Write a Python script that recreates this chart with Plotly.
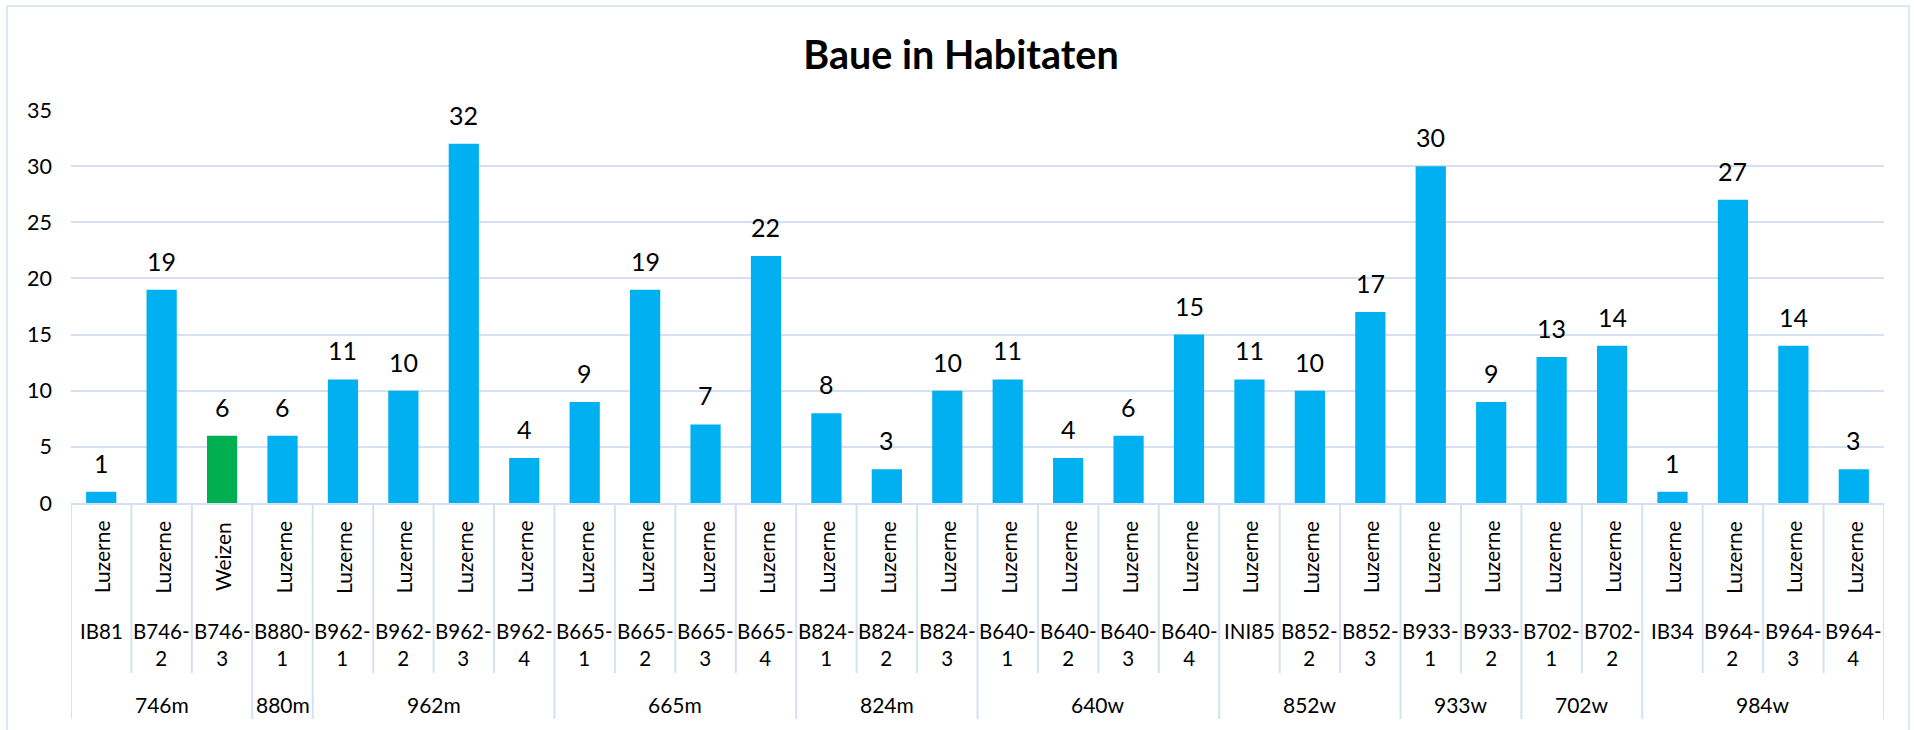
import plotly.graph_objects as go

# ---- data ----
fields = ["IB81", "B746-2", "B746-3", "B880-1", "B962-1", "B962-2", "B962-3", "B962-4",
          "B665-1", "B665-2", "B665-3", "B665-4", "B824-1", "B824-2", "B824-3",
          "B640-1", "B640-2", "B640-3", "B640-4", "INI85", "B852-2", "B852-3",
          "B933-1", "B933-2", "B702-1", "B702-2", "IB34", "B964-2", "B964-3", "B964-4"]
crops = ["Luzerne", "Luzerne", "Weizen", "Luzerne", "Luzerne", "Luzerne", "Luzerne", "Luzerne",
         "Luzerne", "Luzerne", "Luzerne", "Luzerne", "Luzerne", "Luzerne", "Luzerne",
         "Luzerne", "Luzerne", "Luzerne", "Luzerne", "Luzerne", "Luzerne", "Luzerne",
         "Luzerne", "Luzerne", "Luzerne", "Luzerne", "Luzerne", "Luzerne", "Luzerne", "Luzerne"]
groups = ["746m", "746m", "746m", "880m", "962m", "962m", "962m", "962m",
          "665m", "665m", "665m", "665m", "824m", "824m", "824m",
          "640w", "640w", "640w", "640w", "852w", "852w", "852w",
          "933w", "933w", "702w", "702w", "984w", "984w", "984w", "984w"]
values = [1, 19, 6, 6, 11, 10, 32, 4, 9, 19, 7, 22, 8, 3, 10,
          11, 4, 6, 15, 11, 10, 17, 30, 9, 13, 14, 1, 27, 14, 3]
y_ticks = [0, 5, 10, 15, 20, 25, 30, 35]
title_text = "Baue in Habitaten"

# ---- style ----
BLUE = "#00B0F0"
GREEN = "#00B050"
LINE = "#D5E1F2"
TXT = "#000000"
FONT = "Lato"

W, H = 1914, 730
ML, MR, MT, MB = 71, 30, 110, 227
PW, PH = W - ML - MR, H - MT - MB
Y0 = H - MB  # pixel of zero line


def py(pix):  # pixel y -> paper y
    return (Y0 - pix) / PH


def px(pix):  # pixel x -> paper x
    return (pix - ML) / PW


n = len(fields)
xs = list(range(n))
colors = [GREEN if c == "Weizen" else BLUE for c in crops]

fig = go.Figure()
fig.add_trace(go.Bar(x=xs, y=values, marker=dict(color=colors, line=dict(width=0)),
                     width=0.5, hoverinfo="skip"))

ann = []
# data labels
for i, v in zip(xs, values):
    ann.append(dict(x=i, y=v, xref="x", yref="y", text=str(v), showarrow=False,
                    yanchor="bottom", xanchor="center", yshift=12,
                    font=dict(family=FONT, size=25, color=TXT)))
# crop labels (rotated)
for i, c in zip(xs, crops):
    ann.append(dict(x=i, y=py(557), xref="x", yref="paper", text=c, showarrow=False,
                    textangle=-90, yanchor="middle", xanchor="center",
                    font=dict(family=FONT, size=21, color=TXT)))
# field labels (wrapped after hyphen)
for i, f in zip(xs, fields):
    ann.append(dict(x=i, y=py(617), xref="x", yref="paper", text=f.replace("-", "-<br>"),
                    showarrow=False, yanchor="top", xanchor="center", align="center",
                    font=dict(family=FONT, size=20.5, color=TXT)))
# group labels + separators
spans = []
start = 0
for i in range(1, n + 1):
    if i == n or groups[i] != groups[i - 1]:
        spans.append((groups[start], start, i - 1))
        start = i
for g, s, e in spans:
    ann.append(dict(x=(s + e) / 2, y=py(704), xref="x", yref="paper", text=g,
                    showarrow=False, yanchor="middle", xanchor="center",
                    font=dict(family=FONT, size=21, color=TXT)))

shapes = []
group_edges = set([s for _, s, _ in spans] + [n])
for i in range(n + 1):
    bottom = 719 if i in group_edges else 673
    shapes.append(dict(type="line", xref="x", yref="paper", x0=i - 0.5, x1=i - 0.5,
                       y0=0, y1=py(bottom), line=dict(color=LINE, width=2), layer="below"))
# chart border
shapes.append(dict(type="rect", xref="paper", yref="paper", x0=px(7), x1=px(1909),
                   y0=py(6), y1=py(745), line=dict(color=LINE, width=1.5),
                   fillcolor="rgba(0,0,0,0)"))

fig.update_layout(
    width=W, height=H,
    margin=dict(l=ML, r=MR, t=MT, b=MB),
    paper_bgcolor="white", plot_bgcolor="white",
    showlegend=False,
    title=dict(text=title_text, x=961 / W, xref="container", xanchor="center",
               y=1 - 55 / H, yref="container", yanchor="middle",
               font=dict(family=FONT, size=39.5, color=TXT, weight="bold")),
    xaxis=dict(range=[-0.5, n - 0.5], showticklabels=False, ticks="", showgrid=False,
               zeroline=False, showline=True, linecolor=LINE, linewidth=2, fixedrange=True),
    yaxis=dict(range=[0, 35], tickvals=y_ticks, ticks="", showgrid=True, gridcolor=LINE,
               gridwidth=1.5, zeroline=False, showline=False, ticklabelstandoff=18,
               tickfont=dict(family=FONT, size=21.5, color=TXT), fixedrange=True),
    annotations=ann,
    shapes=shapes,
)

fig.write_html("out.html", config={"displayModeBar": False},
               post_script="document.body.style.margin='0';document.body.style.overflow='hidden';")
